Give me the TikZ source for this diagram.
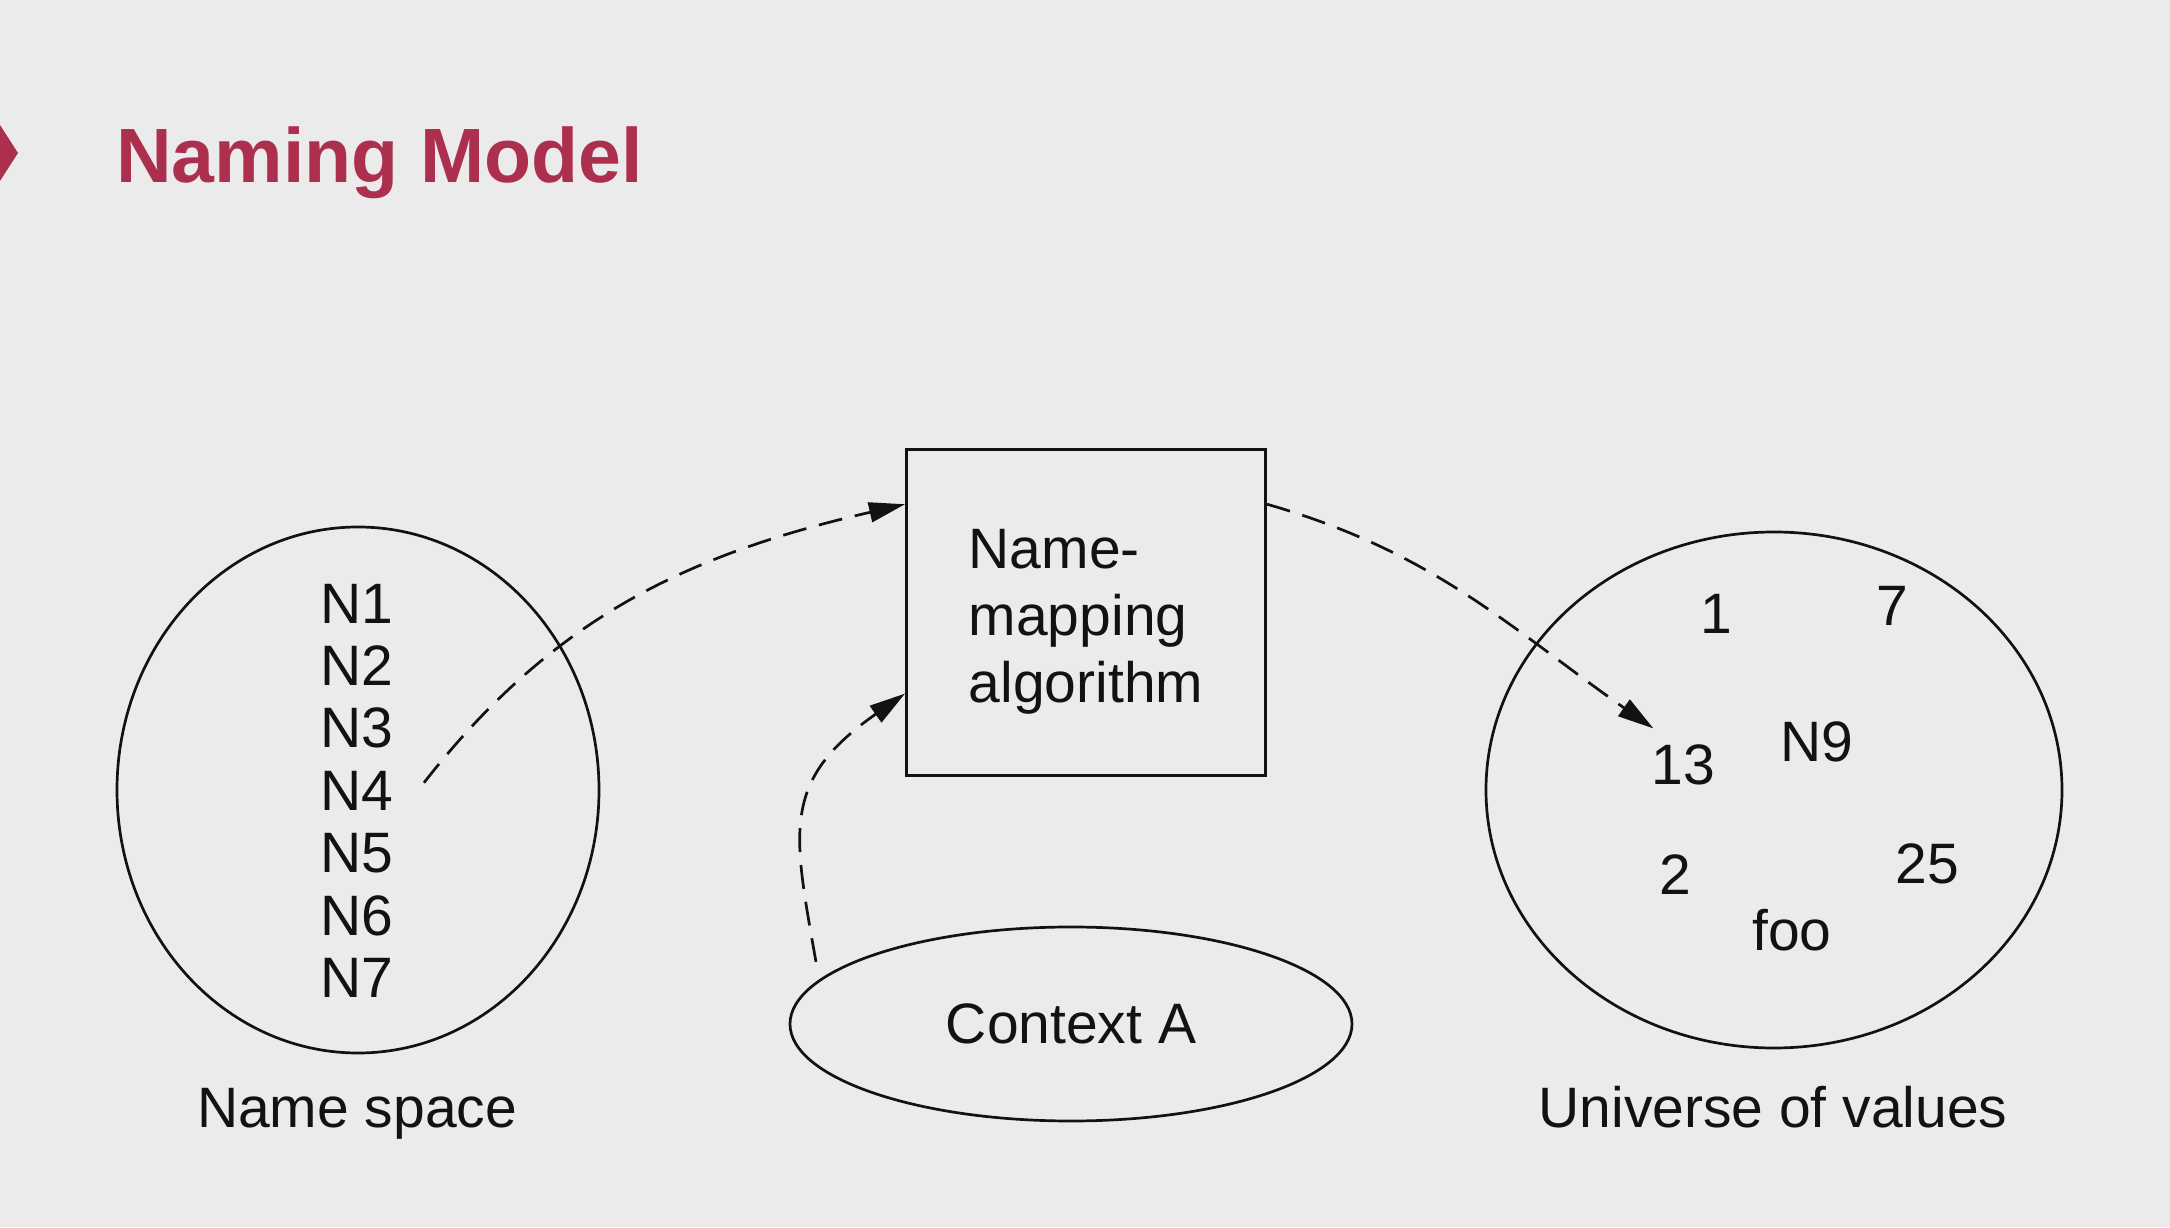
\documentclass[tikz,border=0pt]{standalone}
\usepackage{fontspec}
\setmainfont{Liberation Sans}
\usetikzlibrary{arrows.meta, shapes.geometric}
\definecolor{slidebg}{RGB}{235,235,235}
\definecolor{titlered}{RGB}{172,48,78}
\definecolor{ink}{RGB}{18,18,18}

\begin{document}
\begin{tikzpicture}[
    x=0.5pt, y=0.5pt,
    txt/.style={font=\fontsize{28.5}{33.5}\selectfont, text=ink, inner sep=2pt},
    valnum/.style={txt, inner sep=8pt},
    region/.style={ellipse, draw=ink, line width=1.35pt, inner sep=0pt},
    flow/.style={-{Triangle[length=18pt, width=10pt]}, ink, line width=1.35pt, dash pattern=on 12pt off 6.5pt}
]

% Fond
\fill[slidebg] (0,0) rectangle (2170,1227);
\useasboundingbox (0,0) rectangle (2170,1227);

% Titre
\fill[titlered] (0,1102) -- (18,1074) -- (0,1046) -- cycle;
\node[anchor=base west, inner sep=0pt, text=titlered, font=\fontsize{38.5}{46}\selectfont\bfseries] (title) at (116,1044) {Naming Model};

% Espace de noms
\node[region, minimum width=241pt, minimum height=263pt] (space) at (358,437) {};
\foreach \i in {1,...,7}
    \node[txt] (n\i) at (357,686-62.4*\i) {N\i};
\node[txt, anchor=base] (spacelabel) at (357,99) {Name space};

% Algorithme
\node[txt, draw=ink, line width=1.5pt, minimum width=179.5pt, minimum height=163pt, align=left] (algo) at (1086,614) {\rule{0pt}{28pt}Name-\\mapping\\algorithm};

% Contexte
\node[region, txt, minimum width=281pt, minimum height=97pt] (ctx) at (1071,203) {Context A};

% Univers des valeurs
\node[region, minimum width=288pt, minimum height=258pt] (universe) at (1774,437) {};
\foreach \name/\val/\px/\py in {v1/1/1716/613, v7/7/1892/621, v13/13/1683/462, n9/N9/1817/485, v2/2/1675/352, v25/25/1927/363, foo/foo/1792/297}
    \node[valnum] (\name) at (\px,\py) {\val};
\node[txt, anchor=base] (universelabel) at (1773,99) {Universe of values};

% Flux
\draw[flow, shorten <=5pt] ([xshift=10pt]n4.east) to[out=52, in=193] (algo.149);
\draw[flow, shorten <=9pt] (ctx.170) to[out=100, in=215, looseness=1.3] (algo.204);
\draw[flow] (algo.31) to[out=-16, in=145] (v13.129);

\end{tikzpicture}
\end{document}
